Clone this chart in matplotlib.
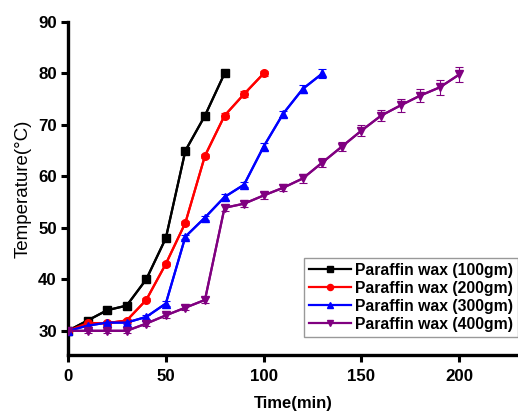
import matplotlib
matplotlib.use("Agg")
import matplotlib.pyplot as plt

plt.rcParams['font.family'] = ['Liberation Sans', 'DejaVu Sans']

t100 = [0, 10, 20, 30, 40, 50, 60, 70, 80]
y100 = [30, 32, 34, 34.9, 40, 48, 65, 71.8, 80]
e100 = [0.2, 0.3, 0.3, 0.3, 0.3, 0.3, 0.3, 0.3, 0.3]

t200 = [0, 10, 20, 30, 40, 50, 60, 70, 80, 90, 100]
y200 = [30, 31.5, 31.5, 32, 36, 43, 51, 64, 71.8, 76, 80]
e200 = [0.2, 0.3, 0.3, 0.3, 0.3, 0.4, 0.4, 0.4, 0.5, 0.5, 0.5]

t300 = [0, 10, 20, 30, 40, 50, 60, 70, 80, 90, 100, 110, 120, 130]
y300 = [30, 31, 31.6, 31.6, 32.7, 35.3, 48.3, 52, 56, 58.4, 65.8, 72.2, 77, 80]
e300 = [0.2, 0.3, 0.3, 0.3, 0.4, 0.4, 0.4, 0.4, 0.5, 0.5, 0.6, 0.6, 0.75, 0.9]

t400 = [0, 10, 20, 30, 40, 50, 60, 70, 80, 90, 100, 110, 120, 130, 140,
        150, 160, 170, 180, 190, 200]
y400 = [30, 30, 30, 30, 31.4, 33, 34.5, 36, 53.9, 54.7, 56.3, 57.8, 59.6,
        62.7, 65.8, 68.9, 71.8, 73.8, 75.7, 77.3, 79.8]
e400 = [0.3, 0.4, 0.4, 0.4, 0.5, 0.5, 0.5, 0.6, 0.6, 0.6, 0.65, 0.7, 0.8,
        0.9, 0.9, 1.0, 1.1, 1.2, 1.3, 1.45, 1.4]

labels = ['Paraffin wax (100gm)', 'Paraffin wax (200gm)',
          'Paraffin wax (300gm)', 'Paraffin wax (400gm)']

fig = plt.figure(figsize=(5.18, 4.16), dpi=100)
ax = fig.add_axes([68/518, 61/416, 450/518, 333/416])

series = [(t100, y100, e100, 'black', 's'),
          (t200, y200, e200, 'red', 'o'),
          (t300, y300, e300, 'blue', '^'),
          (t400, y400, e400, '#800080', 'v')]
handles = []
for (t, y, e, c, m), lab in zip(series, labels):
    ax.errorbar(t, y, yerr=e, color=c, ecolor=c, elinewidth=0.8, capsize=3,
                capthick=0.8, lw=1.6, zorder=2)
    h, = ax.plot(t, y, color=c, marker=m, ms=5.5, lw=1.6, label=lab, zorder=3)
    handles.append(h)

ax.set_xlim(0, 230)
ax.set_ylim(25.3, 90)
ax.set_xticks([0, 50, 100, 150, 200])
ax.set_yticks([30, 40, 50, 60, 70, 80, 90])
for s in ['top', 'right']:
    ax.spines[s].set_visible(False)
for s in ['left', 'bottom']:
    ax.spines[s].set_linewidth(2.4)
ax.tick_params(direction='out', length=5, width=2.2, labelsize=12.2)
ax.tick_params(axis='x', pad=5)
ax.tick_params(axis='y', pad=3)
for lbl in ax.get_xticklabels() + ax.get_yticklabels():
    lbl.set_fontweight('bold')

ax.set_xlabel('Time(min)', fontsize=12, fontweight='bold', labelpad=9)
ax.set_ylabel('Temperature(°C)', fontsize=13.5, labelpad=5)

leg = ax.legend(handles=handles, loc='lower right', bbox_to_anchor=(0.9995, 0.055),
                prop={'weight': 'bold', 'size': 11.3}, frameon=True, fancybox=False,
                handlelength=2.7, handletextpad=0.25, borderpad=0.3,
                labelspacing=0.2, borderaxespad=0, markerscale=0.8)
leg.get_frame().set_edgecolor('#808080')
leg.get_frame().set_linewidth(1.0)

fig.savefig('out.png', dpi=100)
